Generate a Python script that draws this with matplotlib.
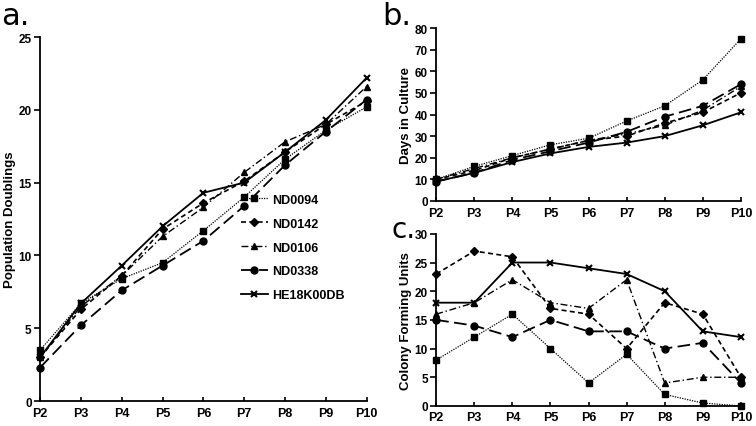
import matplotlib.pyplot as plt

# passages on the x axis
passages = ["P2", "P3", "P4", "P5", "P6", "P7", "P8", "P9", "P10"]
lines_names = ["ND0094", "ND0142", "ND0106", "ND0338", "HE18K00DB"]

# a. population doublings
pd_nd0094 = [3.5, 6.7, 8.4, 9.5, 11.7, 14.0, 16.6, 18.6, 20.2]
pd_nd0142 = [3.0, 6.3, 8.6, 11.8, 13.6, 15.1, 17.1, 19.0, 20.6]
pd_nd0106 = [3.0, 6.5, 8.6, 11.3, 13.3, 15.7, 17.8, 19.0, 21.6]
pd_nd0338 = [2.3, 5.2, 7.6, 9.3, 11.0, 13.4, 16.2, 18.5, 20.7]
pd_he18 = [3.0, 6.7, 9.3, 12.0, 14.3, 15.0, 17.1, 19.3, 22.2]

# b. days in culture
days_nd0094 = [10, 16, 21, 26, 29, 37, 44, 56, 75]
days_nd0142 = [10, 14, 20, 24, 28, 30, 36, 41, 50]
days_nd0106 = [10, 15, 20, 24, 28, 31, 35, 42, 53]
days_nd0338 = [9, 13, 19, 23, 27, 32, 39, 44, 54]
days_he18 = [9, 13, 18, 22, 25, 27, 30, 35, 41]

# c. colony forming units
cfu_nd0094 = [8, 12, 16, 10, 4, 9, 2, 0.5, 0]
cfu_nd0142 = [23, 27, 26, 17, 16, 10, 18, 16, 5]
cfu_nd0106 = [16, 18, 22, 18, 17, 22, 4, 5, 5]
cfu_nd0338 = [15, 14, 12, 15, 13, 13, 10, 11, 4]
cfu_he18 = [18, 18, 25, 25, 24, 23, 20, 13, 12]

plt.rcParams["font.family"] = ["Liberation Sans", "DejaVu Sans"]
plt.rcParams["font.weight"] = "bold"

styles = [
    dict(linestyle=(0, (1, 1)), marker="s", lw=0.9, ms=5),
    dict(linestyle=(0, (3, 2)), marker="D", lw=1.2, ms=4),
    dict(linestyle=(0, (5, 2, 1, 2)), marker="^", lw=1.0, ms=5),
    dict(linestyle=(0, (7, 3)), marker="o", lw=1.3, ms=5),
    dict(linestyle="-", marker="x", lw=1.3, ms=5, mew=1.5),
]

fig = plt.figure(figsize=(7.56, 4.27), dpi=100)
ax1 = fig.add_axes([0.053, 0.0585, 0.432, 0.8525])
ax2 = fig.add_axes([0.577, 0.527, 0.403, 0.405])
ax3 = fig.add_axes([0.577, 0.047, 0.403, 0.403])

x = list(range(len(passages)))

def draw(ax, series, ymax, ystep, ylabel):
    for name, vals, st in zip(lines_names, series, styles):
        ax.plot(x, vals, color="black", label=name, clip_on=False, **st)
    ax.set_xlim(0, len(passages) - 1)
    ax.set_ylim(0, ymax)
    ax.set_yticks(range(0, ymax + 1, ystep))
    ax.set_xticks(x)
    ax.set_xticklabels(passages)
    ax.spines["top"].set_visible(False)
    ax.spines["right"].set_visible(False)
    ax.spines["left"].set_linewidth(1.3)
    ax.spines["bottom"].set_linewidth(1.3)
    ax.tick_params(axis="y", direction="out", length=4, width=1.2, labelsize=8.5, pad=2)
    ax.tick_params(axis="x", direction="in", length=3, width=1.2, labelsize=9, pad=4)
    ax.set_ylabel(ylabel, fontsize=9.5, fontweight="bold", labelpad=2)

draw(ax1, [pd_nd0094, pd_nd0142, pd_nd0106, pd_nd0338, pd_he18], 25, 5, "Population Doublings")
draw(ax2, [days_nd0094, days_nd0142, days_nd0106, days_nd0338, days_he18], 80, 10, "Days in Culture")
draw(ax3, [cfu_nd0094, cfu_nd0142, cfu_nd0106, cfu_nd0338, cfu_he18], 30, 5, "Colony Forming Units")

ax1.legend(loc="upper left", bbox_to_anchor=(0.58, 0.6), frameon=False,
           fontsize=9, handlelength=2.2, labelspacing=0.95, handletextpad=0.3)

fig.text(0.002, 0.995, "a.", fontsize=22, fontweight="normal", va="top", family="DejaVu Sans")
fig.text(0.505, 0.995, "b.", fontsize=22, fontweight="normal", va="top", family="DejaVu Sans")
fig.text(0.518, 0.495, "c.", fontsize=20, fontweight="normal", va="top", family="DejaVu Sans")

fig.savefig("out.png", dpi=100)
